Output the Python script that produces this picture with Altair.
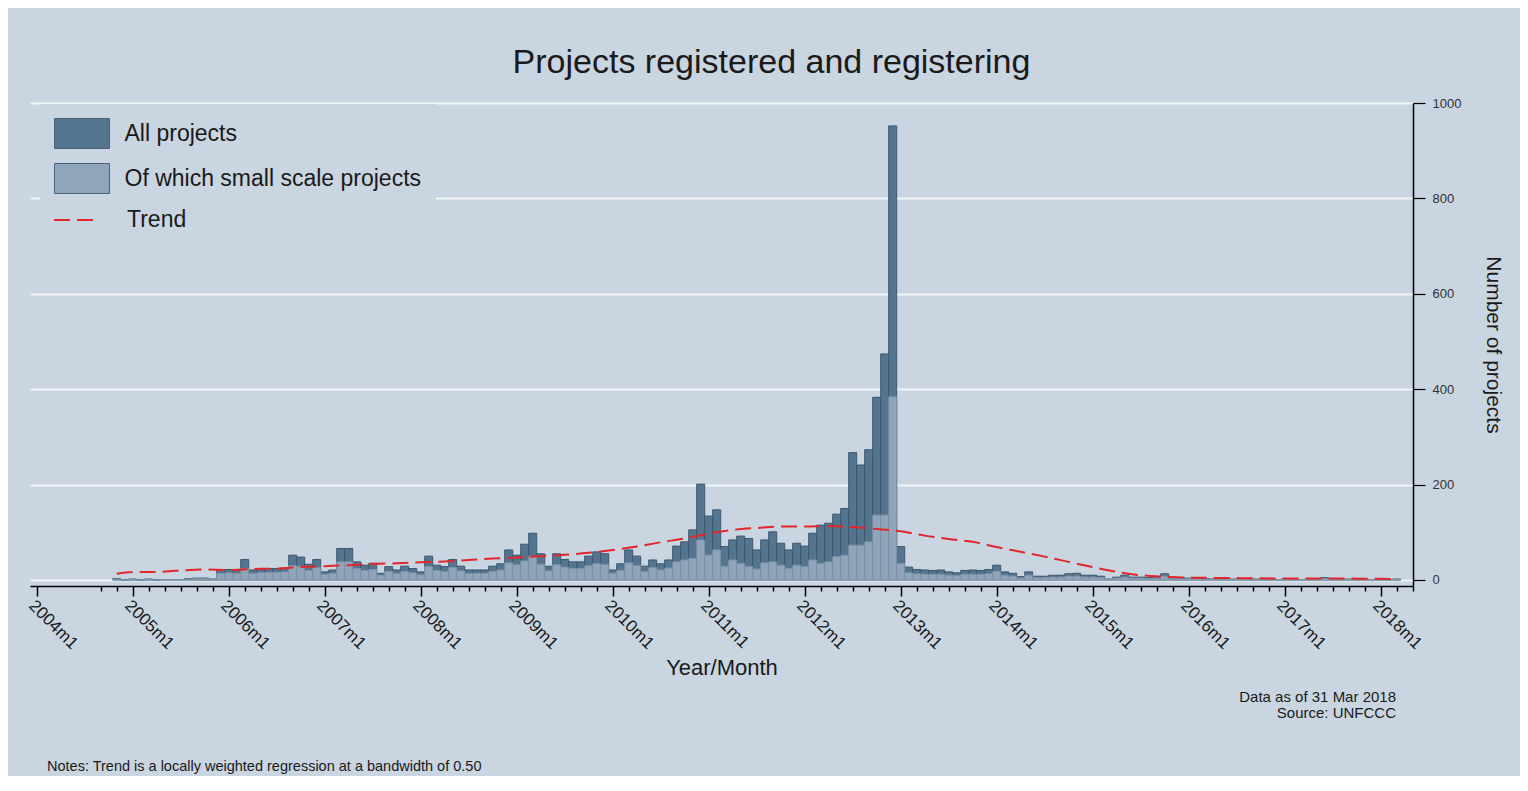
import altair as alt
import pandas as pd

# ---------------- data ----------------
# month index counted from 2004m1 = 0; bars run 2004m11 .. 2018m3
first_month = 10

all_projects = [
    3, 0, 2, 0, 2, 0, 1, 1, 1, 3, 4, 4, 2,                       # 2004m11-2005m11
    22, 22, 22, 43, 21, 22, 24, 24, 25, 52, 48, 33, 43,          # 2005m12-2006m12
    17, 21, 66, 66, 38, 31, 35, 14, 28, 21, 29, 24,              # 2007
    17, 50, 31, 28, 43, 29, 21, 21, 21, 29, 34, 63,              # 2008
    52, 75, 98, 55, 29, 55, 43, 38, 38, 50, 59, 55,              # 2009
    21, 34, 63, 50, 29, 42, 34, 42, 71, 80, 105, 201,            # 2010
    134, 147, 70, 84, 92, 87, 63, 84, 101, 77, 63, 77,           # 2011
    71, 98, 115, 119, 138, 150, 267, 241, 273, 383, 474, 952,    # 2012
    70, 27, 22, 21, 20, 21, 17, 15, 20, 21, 20, 22,              # 2013
    31, 17, 14, 7, 17, 8, 8, 10, 10, 13, 14, 10,                 # 2014
    10, 8, 2, 6, 10, 6, 6, 5, 7, 13, 5, 5,                       # 2015
    4, 4, 3, 2, 3, 2, 2, 3, 2, 2, 2, 1,                          # 2016
    2, 2, 1, 2, 3, 5, 2, 1, 2, 1, 1, 1,                          # 2017
    1, 1, 2,                                                     # 2018m1-m3
]
small_scale = [
    2, 0, 1, 0, 1, 0, 1, 1, 1, 2, 3, 3, 1,
    14, 15, 14, 24, 14, 15, 16, 16, 17, 30, 28, 20, 26,
    12, 14, 38, 38, 24, 20, 22, 10, 18, 14, 18, 15,
    11, 28, 20, 18, 26, 19, 14, 14, 14, 18, 21, 36,
    32, 40, 50, 33, 19, 32, 27, 24, 24, 30, 34, 32,
    14, 20, 36, 30, 18, 26, 21, 25, 38, 42, 45, 84,
    52, 63, 29, 42, 35, 28, 23, 36, 38, 31, 24, 31,
    28, 42, 35, 38, 49, 52, 73, 73, 80, 136, 136, 384,
    35, 15, 13, 12, 12, 12, 10, 9, 12, 12, 12, 13,
    18, 10, 8, 4, 10, 5, 5, 6, 6, 8, 8, 6,
    6, 5, 1, 4, 6, 4, 4, 3, 4, 8, 3, 3,
    3, 3, 2, 1, 2, 1, 1, 2, 1, 1, 1, 1,
    1, 1, 1, 1, 2, 3, 1, 1, 1, 1, 1, 1,
    1, 1, 1,
]
trend_month = [10, 12, 15, 18, 21, 24, 27, 30, 33, 36, 39, 42, 45, 48, 51, 54, 57,
               60, 63, 66, 69, 72, 75, 78, 81, 84, 87, 90, 93, 96, 99, 102, 105,
               108, 111, 114, 117, 120, 123, 126, 129, 132, 135, 138, 141, 144,
               150, 156, 162, 170]
trend_value = [13, 17, 17, 20, 22, 21, 23, 24, 27, 29, 31, 34, 35, 37, 39, 42, 45,
               47, 50, 53, 57, 63, 70, 79, 87, 97, 105, 109, 112, 112, 113, 111, 107,
               102, 93, 86, 80, 69, 59, 49, 38, 27, 17, 10, 7, 5,
               4, 3, 3, 2]
series_names = ["All projects", "Of which small scale projects"]
trend_name = ["Trend"]
major_ticks = list(range(0, 169, 12))              # 2004m1 .. 2018m1
minor_ticks = list(range(8, 173, 2))
y_ticks = [0, 200, 400, 600, 800, 1000]

title_text = "Projects registered and registering"
x_title = "Year/Month"
y_title = "Number of projects"
source_text = ["Data as of 31 Mar 2018", "Source: UNFCCC"]
note_text = ["Notes: Trend is a locally weighted regression at a bandwidth of 0.50"]

# ---------------- tables ----------------
n = len(all_projects)
months = list(range(first_month, first_month + n))
bars_df = pd.DataFrame({
    "m": months + months,
    "v": all_projects + small_scale,
    "series": [series_names[0]] * n + [series_names[1]] * n,
})
trend_df = pd.DataFrame({"m": trend_month, "v": trend_value, "name": trend_name * len(trend_month)})

# ---------------- style ----------------
FONT = "Liberation Sans, Arial, sans-serif"
BG = "#c9d5e0"
DARK = "#55748d"
DARK_STROKE = "#3c586f"
LIGHT = "#90a5b9"
LIGHT_STROKE = "#7b92a7"
RED = "#e3262b"

W, H = 1383, 483
x_scale = alt.Scale(domain=[-0.84, 172.04], nice=False, zero=False)
y_scale = alt.Scale(domain=[-12.6, 1000], nice=False, zero=False)

x_axis = alt.Axis(
    values=sorted(set([0] + minor_ticks + major_ticks)),
    labelExpr="datum.value % 12 === 0 ? (2004 + datum.value / 12) + 'm1' : ''",
    labelAngle=45, labelAlign="left", labelBaseline="top",
    labelFont=FONT, labelFontSize=17, labelColor="#1a1a1a", labelPadding=1,
    labelOverlap=False, labelFlush=False, labelBound=False,
    tickSize={"condition": {"test": "datum.value % 12 === 0", "value": 10}, "value": 5},
    tickColor="#000000", tickWidth=1.5,
    domainColor="#000000", domainWidth=1.5,
    grid=False,
    title=x_title, titleFont=FONT, titleFontSize=22, titleFontWeight="normal",
    titleColor="#1a1a1a", titlePadding=6,
)
y_axis = alt.Axis(
    orient="right", values=y_ticks, format="d",
    labelFont=FONT, labelFontSize=13, labelColor="#333333", labelPadding=7,
    labelFlush=False,
    tickSize=12, tickColor="#000000", tickWidth=1.2,
    domainColor="#000000", domainWidth=1.5,
    grid=True, gridColor="#f2f5f8", gridWidth=2, gridOpacity=1,
    title=y_title, titleFont=FONT, titleFontSize=21, titleFontWeight="normal",
    titleColor="#1a1a1a", titlePadding=22,
)

legend_bars = alt.Legend(
    orient="none", legendX=10, legendY=1, title=None,
    symbolType="M-1.833,-1L1.833,-1L1.833,1L-1.833,1Z",
    symbolSize=900, symbolOffset=12.5,
    symbolStrokeColor="#46647c", symbolStrokeWidth=1, symbolOpacity=1,
    labelFont=FONT, labelFontSize=23, labelColor="#1a1a1a", labelOffset=27,
    labelLimit=500, rowPadding=10, padding=14, fillColor=BG,
)
legend_trend = alt.Legend(
    orient="none", legendX=23, legendY=95, title=None,
    symbolType="stroke", symbolSize=1764, symbolStrokeColor=RED,
    symbolStrokeWidth=2, symbolDash=[16, 7],
    labelFont=FONT, labelFontSize=23, labelColor="#1a1a1a", labelOffset=30,
    padding=0,
)

bars = alt.Chart(bars_df).transform_calculate(
    x0="datum.m - 0.5", x1="datum.m + 0.5"
).mark_bar(strokeWidth=1).encode(
    x=alt.X("x0:Q", scale=x_scale, axis=x_axis),
    x2="x1:Q",
    y=alt.Y("v:Q", scale=y_scale, axis=y_axis, stack=None),
    y2=alt.datum(0),
    fill=alt.Fill("series:N", scale=alt.Scale(domain=series_names, range=[DARK, LIGHT]),
                  legend=legend_bars),
    stroke=alt.condition(alt.datum.series == series_names[0],
                         alt.value(DARK_STROKE), alt.value(LIGHT_STROKE)),
)

trend = alt.Chart(trend_df).mark_line(
    stroke=RED, strokeWidth=2, interpolate="monotone"
).encode(
    x=alt.X("m:Q", scale=x_scale, axis=x_axis),
    y=alt.Y("v:Q", scale=y_scale, axis=y_axis),
    strokeDash=alt.StrokeDash("name:N", scale=alt.Scale(domain=trend_name, range=[[16, 7]]),
                              legend=legend_trend),
)

source = alt.Chart(pd.DataFrame({"t": ["\n".join(source_text)]})).mark_text(
    align="right", baseline="top", font=FONT, fontSize=15, color="#1a1a1a",
    lineBreak="\n", lineHeight=16,
).encode(x=alt.value(1366), y=alt.value(587), text="t:N")

note = alt.Chart(pd.DataFrame({"t": note_text})).mark_text(
    align="left", baseline="middle", font=FONT, fontSize=14.5, color="#1a1a1a",
).encode(x=alt.value(17), y=alt.value(664), text="t:N")

chart = alt.layer(bars, trend, source, note).properties(
    width=W, height=H,
    background=BG,
    padding={"left": 22, "top": 95, "right": 107, "bottom": 190},
    autosize=alt.AutoSizeParams(type="none"),
    title=alt.TitleParams(
        text=title_text, font=FONT, fontSize=34, fontWeight="normal",
        color="#1a1a1a", anchor="middle", dx=50, offset=17,
    ),
).configure_view(stroke=None)

chart.save("out.html", embed_options={"renderer": "svg", "actions": False})
